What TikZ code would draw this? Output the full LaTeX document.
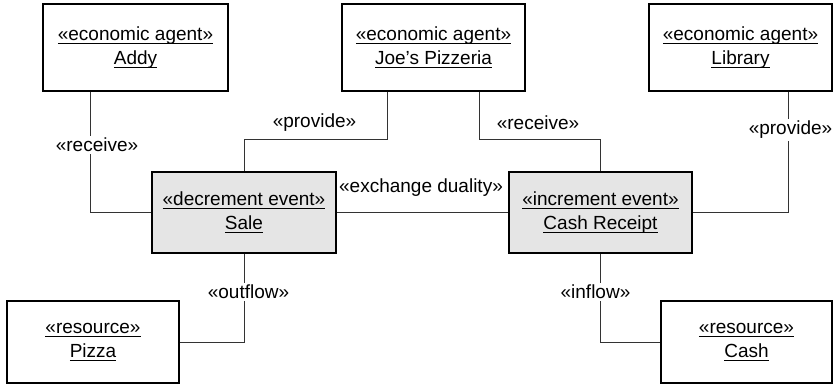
\documentclass[tikz,border=0pt]{standalone}
\usepackage{fontspec}
\setmainfont{Liberation Sans}
% underline at a fixed depth below the baseline
\newsavebox\ulbox
\newcommand\ulx[1]{\sbox\ulbox{#1}\rlap{\rule[-4pt]{\wd\ulbox}{1pt}}\usebox\ulbox}
\begin{document}
\begin{tikzpicture}[x=1pt,y=-1pt,
  every node/.style={font=\fontsize{19}{24}\selectfont, align=center, inner sep=0pt},
  objbox/.style={draw=black, line width=1.3pt, fill=white},
  eventbox/.style={objbox, fill=black!10},
  assoc/.style={draw=black!80, line width=1pt},
  role/.style={fill=white, inner xsep=1pt, inner ysep=2pt}]
\useasboundingbox (0,0) rectangle (833,385);

% economic agents
\node[objbox, minimum width=185pt, minimum height=87pt] (addy) at (135.5,47.5)
  {\ulx{«economic agent»}\\\ulx{Addy}};
\node[objbox, minimum width=183pt, minimum height=87pt] (joe) at (433.5,47.5)
  {\ulx{«economic agent»}\\\ulx{Joe’s Pizzeria}};
\node[objbox, minimum width=183pt, minimum height=87pt] (library) at (740.5,47.5)
  {\ulx{«economic agent»}\\\ulx{Library}};

% economic events
\node[eventbox, minimum width=184pt, minimum height=81pt] (sale) at (244,212.5)
  {\ulx{«decrement event»}\\\ulx{Sale}};
\node[eventbox, minimum width=183pt, minimum height=81pt] (receipt) at (600.5,212.5)
  {\ulx{«increment event»}\\\ulx{Cash Receipt}};

% economic resources
\node[objbox, minimum width=172pt, minimum height=82pt] (pizza) at (93,342)
  {\ulx{«resource»}\\\ulx{Pizza}};
\node[objbox, minimum width=171pt, minimum height=82pt] (cash) at (746.5,342)
  {\ulx{«resource»}\\\ulx{Cash}};

% associations
\draw[assoc] ([xshift=-45.5pt]addy.south) |- (sale.west);
\draw[assoc] ([xshift=-46.5pt]joe.south) -- ++(0,48) -| (sale.north);
\draw[assoc] ([xshift=45.5pt]joe.south) -- ++(0,48) -| (receipt.north);
\draw[assoc] ([xshift=47.5pt]library.south) |- (receipt.east);
\draw[assoc] (sale.east) -- (receipt.west);
\draw[assoc] (sale.south) |- (pizza.east);
\draw[assoc] (receipt.south) |- (cash.west);

% role labels
\node[role] (lreceiveA) at (97,145) {«receive»};
\node (lprovideJ) at (314.5,123) {«provide»};
\node (lreceiveJ) at (538,123) {«receive»};
\node[role] (lprovideL) at (790.5,130) {«provide»};
\node (lduality) at (421,188) {«exchange duality»};
\node[role] (loutflow) at (248.5,292) {«outflow»};
\node[role] (linflow) at (595.5,292) {«inflow»};
\end{tikzpicture}
\end{document}
